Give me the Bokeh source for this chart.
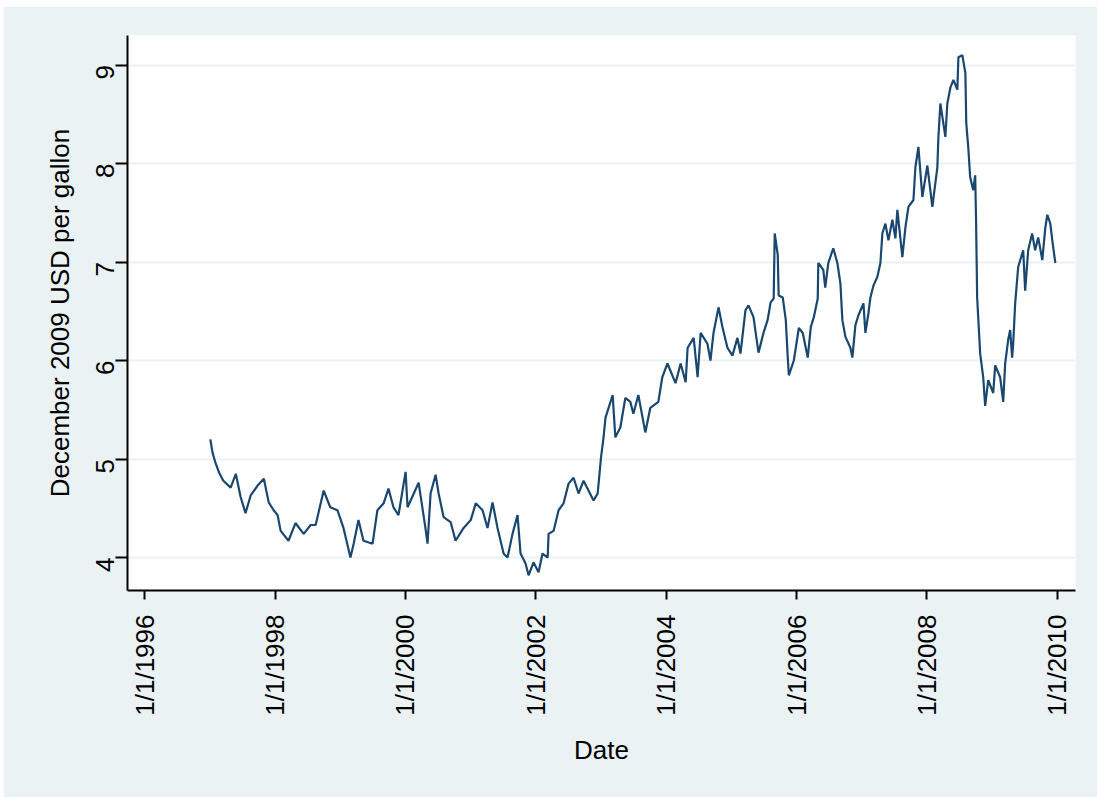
import math
import pandas as pd
from bokeh.plotting import figure
from bokeh.models import FixedTicker, DatetimeTickFormatter, Range1d
from bokeh.embed import file_html
from bokeh.resources import INLINE

dates = [
    "1997-01-03", "1997-01-16", "1997-02-03", "1997-02-24", "1997-03-17", "1997-04-27", "1997-05-26",
    "1997-06-21", "1997-07-19", "1997-08-17", "1997-09-25", "1997-10-30", "1997-11-26", "1997-12-24",
    "1998-01-15", "1998-02-01", "1998-03-17", "1998-04-25", "1998-06-10", "1998-07-19", "1998-08-16",
    "1998-09-30", "1998-11-06", "1998-12-16", "1999-01-19", "1999-02-27", "1999-03-17", "1999-04-13",
    "1999-05-11", "1999-07-01", "1999-07-28", "1999-09-01", "1999-09-28", "1999-10-26", "1999-11-23",
    "2000-01-02", "2000-01-13", "2000-02-17", "2000-03-15", "2000-04-22", "2000-05-04", "2000-05-21",
    "2000-06-18", "2000-07-05", "2000-08-02", "2000-09-10", "2000-10-08", "2000-11-22", "2001-01-01",
    "2001-01-29", "2001-03-08", "2001-04-05", "2001-05-03", "2001-05-31", "2001-07-04", "2001-07-26",
    "2001-08-23", "2001-09-20", "2001-10-07", "2001-11-04", "2001-11-21", "2001-12-19", "2002-01-16",
    "2002-02-07", "2002-03-08", "2002-03-13", "2002-04-10", "2002-05-08", "2002-06-05", "2002-07-03",
    "2002-07-31", "2002-08-28", "2002-09-25", "2002-11-20", "2002-12-13", "2003-01-01", "2003-01-15",
    "2003-01-26", "2003-03-07", "2003-03-22", "2003-04-19", "2003-05-17", "2003-06-14", "2003-07-01",
    "2003-07-29", "2003-09-06", "2003-10-04", "2003-11-18", "2003-12-10", "2004-01-08", "2004-02-22",
    "2004-03-22", "2004-04-19", "2004-04-30", "2004-06-03", "2004-06-25", "2004-07-12", "2004-08-19",
    "2004-09-05", "2004-09-22", "2004-10-20", "2004-11-11", "2004-12-09", "2005-01-06", "2005-02-03",
    "2005-02-20", "2005-03-20", "2005-04-06", "2005-05-04", "2005-06-01", "2005-06-29", "2005-07-22",
    "2005-08-08", "2005-08-25", "2005-08-31", "2005-09-17", "2005-09-22", "2005-10-15", "2005-11-01",
    "2005-11-12", "2005-11-18", "2005-12-16", "2006-01-13", "2006-02-04", "2006-03-04", "2006-03-21",
    "2006-04-07", "2006-04-29", "2006-05-02", "2006-05-30", "2006-06-10", "2006-06-27", "2006-07-25",
    "2006-08-17", "2006-09-03", "2006-09-14", "2006-10-01", "2006-10-29", "2006-11-09", "2006-11-26",
    "2006-12-13", "2007-01-10", "2007-01-21", "2007-02-07", "2007-02-18", "2007-03-07", "2007-03-29",
    "2007-04-15", "2007-04-26", "2007-05-13", "2007-05-30", "2007-06-21", "2007-07-08", "2007-07-19",
    "2007-08-16", "2007-09-02", "2007-09-19", "2007-10-17", "2007-10-28", "2007-11-14", "2007-12-06",
    "2008-01-03", "2008-01-31", "2008-02-28", "2008-03-05", "2008-03-16", "2008-04-13", "2008-04-24",
    "2008-05-11", "2008-05-28", "2008-06-19", "2008-06-25", "2008-07-17", "2008-08-03", "2008-08-08",
    "2008-08-19", "2008-08-30", "2008-09-16", "2008-09-27", "2008-10-02", "2008-10-08", "2008-10-25",
    "2008-11-11", "2008-11-22", "2008-12-09", "2009-01-06", "2009-01-17", "2009-02-14", "2009-03-03",
    "2009-03-14", "2009-03-31", "2009-04-11", "2009-04-22", "2009-04-28", "2009-05-09", "2009-05-26",
    "2009-06-23", "2009-07-04", "2009-07-21", "2009-08-12", "2009-08-29", "2009-09-15", "2009-10-08",
    "2009-10-25", "2009-11-05", "2009-11-22", "2009-12-03", "2009-12-20",
]

prices = [
    5.20, 5.06, 4.95, 4.85, 4.78, 4.71, 4.85,
    4.62, 4.45, 4.63, 4.73, 4.80, 4.56, 4.48,
    4.43, 4.27, 4.17, 4.35, 4.24, 4.33, 4.33,
    4.68, 4.51, 4.48, 4.30, 4.00, 4.14, 4.38,
    4.17, 4.14, 4.48, 4.55, 4.70, 4.51, 4.43,
    4.87, 4.51, 4.65, 4.76, 4.30, 4.14, 4.65,
    4.84, 4.65, 4.41, 4.36, 4.17, 4.30, 4.38,
    4.55, 4.48, 4.30, 4.56, 4.30, 4.04, 4.00,
    4.24, 4.43, 4.04, 3.94, 3.82, 3.95, 3.85,
    4.04, 4.00, 4.24, 4.27, 4.48, 4.55, 4.75,
    4.81, 4.65, 4.78, 4.58, 4.65, 5.02, 5.22,
    5.42, 5.65, 5.22, 5.32, 5.62, 5.58, 5.46,
    5.65, 5.27, 5.52, 5.58, 5.83, 5.97, 5.77,
    5.97, 5.78, 6.13, 6.23, 5.83, 6.28, 6.17,
    6.00, 6.28, 6.54, 6.34, 6.13, 6.05, 6.23,
    6.07, 6.51, 6.56, 6.44, 6.08, 6.28, 6.41,
    6.59, 6.63, 7.29, 7.07, 6.66, 6.64, 6.41,
    6.03, 5.85, 6.00, 6.33, 6.28, 6.03, 6.34,
    6.44, 6.63, 6.99, 6.92, 6.74, 6.99, 7.14,
    6.99, 6.78, 6.41, 6.24, 6.13, 6.03, 6.36,
    6.46, 6.58, 6.28, 6.48, 6.64, 6.76, 6.85,
    6.99, 7.29, 7.39, 7.22, 7.43, 7.24, 7.53,
    7.05, 7.35, 7.56, 7.63, 7.96, 8.17, 7.66,
    7.98, 7.56, 7.96, 8.27, 8.61, 8.27, 8.61,
    8.77, 8.85, 8.75, 9.08, 9.10, 8.92, 8.41,
    8.17, 7.86, 7.73, 7.88, 7.42, 6.64, 6.07,
    5.83, 5.54, 5.80, 5.67, 5.95, 5.83, 5.58,
    5.97, 6.21, 6.31, 6.03, 6.17, 6.58, 6.95,
    7.12, 6.71, 7.12, 7.29, 7.12, 7.25, 7.02,
    7.35, 7.48, 7.39, 7.22, 6.99,
]

x_tick_dates = ["1996-01-01", "1998-01-01", "2000-01-01", "2002-01-01",
                "2004-01-01", "2006-01-01", "2008-01-01", "2010-01-01"]
y_ticks = [4, 5, 6, 7, 8, 9]

x_label = "Date"
y_label = "December 2009 USD per gallon"


def ms(d):
    return pd.Timestamp(d).value / 1e6


xs = [ms(d) for d in dates]

BG = "#EAF2F3"
FONT = "Liberation Sans"
FS = "26px"

p = figure(
    width=1094, height=791,
    x_axis_type="datetime",
    output_backend="svg", toolbar_location=None,
    x_range=Range1d(ms("1995-09-27"), ms("2010-04-12")),
    y_range=Range1d(3.665, 9.30),
    min_border_left=124, min_border_right=22, min_border_top=29, min_border_bottom=207,
)
p.margin = (6, 0, 0, 3)

p.line(xs, prices, line_color="#1A476F", line_width=2.2)

p.background_fill_color = "white"
p.border_fill_color = BG
p.outline_line_color = None

p.xgrid.grid_line_color = None
p.ygrid.grid_line_color = BG
p.ygrid.grid_line_width = 2

p.xaxis.ticker = FixedTicker(ticks=[ms(d) for d in x_tick_dates])
fmt = "1/1/%Y"
p.xaxis.formatter = DatetimeTickFormatter(
    microseconds=fmt, milliseconds=fmt, seconds=fmt, minsec=fmt, minutes=fmt,
    hourmin=fmt, hours=fmt, days=fmt, months=fmt, years=fmt)
p.yaxis.ticker = FixedTicker(ticks=y_ticks)

for ax in (p.xaxis[0], p.yaxis[0]):
    ax.axis_line_color = "black"
    ax.axis_line_width = 2
    ax.major_tick_line_color = "black"
    ax.major_tick_line_width = 2
    ax.major_tick_in = 0
    ax.minor_tick_line_color = None
    ax.major_label_text_font = FONT
    ax.major_label_text_font_size = FS
    ax.major_label_text_color = "black"
    ax.axis_label_text_font = FONT
    ax.axis_label_text_font_size = FS
    ax.axis_label_text_font_style = "normal"
    ax.axis_label_text_color = "black"
    ax.major_label_orientation = math.pi / 2

p.xaxis.major_tick_out = 9
p.yaxis.major_tick_out = 12
p.xaxis.major_label_standoff = 15
p.yaxis.major_label_standoff = 10
p.xaxis.axis_label_standoff = 16
p.yaxis.axis_label_standoff = 10
p.xaxis.axis_label = x_label
p.yaxis.axis_label = y_label

open("out.html", "w").write(file_html(p, INLINE))
